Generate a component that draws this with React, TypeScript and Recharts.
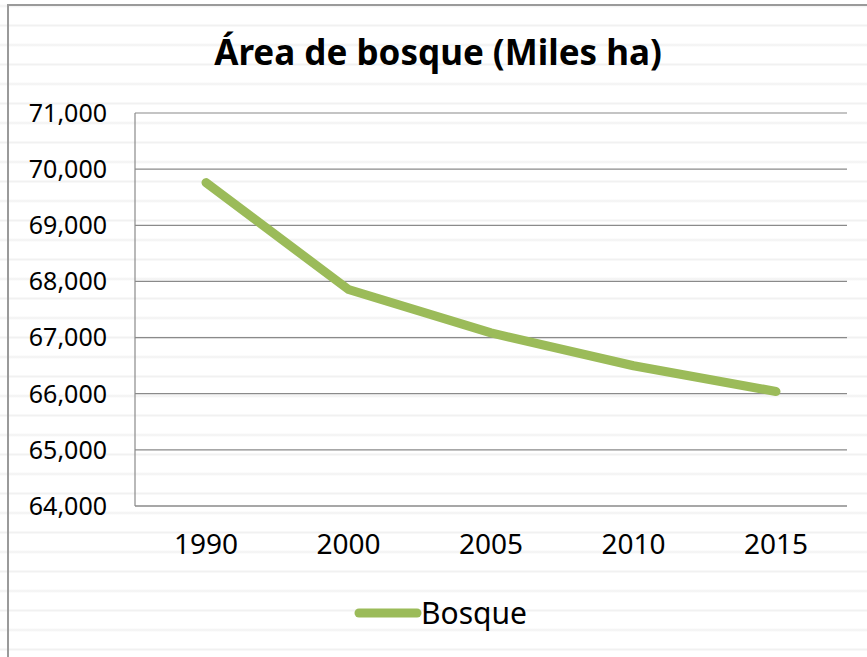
import { LineChart, Line, XAxis, YAxis, CartesianGrid } from "recharts";

// Área de bosque, miles de hectáreas
const years = ["1990", "2000", "2005", "2010", "2015"];
const bosque = [69760, 67856, 67083, 66498, 66040];
const yTicks = [64000, 65000, 66000, 67000, 68000, 69000, 70000, 71000];

const data = years.map((y, i) => ({ year: y, bosque: bosque[i] }));

const FONT = "'Noto Sans', 'Open Sans', sans-serif";
const GREEN = "#9BBB59";
const GRID = "#8a8a8a";

const stripes =
  "repeating-linear-gradient(180deg, #ffffff 0px, #ffffff 4px, #f1f1f1 6px, #ffffff 8px, #ffffff 19.5px)";

export default function App() {
  return (
    <div
      style={{
        position: "fixed",
        left: 0,
        top: 0,
        width: 867,
        height: 657,
        overflow: "hidden",
        background: stripes,
        fontFamily: FONT,
      }}
    >
      {/* chart frame, runs off the right and bottom edges */}
      <div
        style={{
          position: "absolute",
          left: 7,
          top: 4,
          width: 900,
          height: 700,
          border: "2px solid #9a9a9a",
          boxSizing: "border-box",
        }}
      />
      <div style={{ position: "absolute", left: 0, top: 0 }}>
        <LineChart
          width={867}
          height={657}
          data={data}
          margin={{ top: 113, right: 20, bottom: 111, left: 0 }}
        >
          <CartesianGrid vertical={false} stroke={GRID} strokeWidth={1.2} />
          <XAxis
            dataKey="year"
            height={40}
            padding={{ left: 71, right: 71 }}
            tickSize={0}
            tickMargin={28}
            axisLine={{ stroke: GRID, strokeWidth: 1.2 }}
            tick={{ fontSize: 28, fill: "#000", fontFamily: FONT }}
          />
          <YAxis
            width={135}
            domain={[64000, 71000]}
            ticks={yTicks}
            interval={0}
            tickSize={0}
            tickMargin={28}
            axisLine={{ stroke: GRID, strokeWidth: 1.2 }}
            tickFormatter={(v: number) => v.toLocaleString("en-US")}
            tick={{ fontSize: 25, fill: "#000", fontFamily: FONT }}
          />
          <Line
            type="linear"
            dataKey="bosque"
            stroke={GREEN}
            strokeWidth={9}
            strokeLinecap="round"
            strokeLinejoin="round"
            dot={false}
            activeDot={false}
            isAnimationActive={false}
          />
        </LineChart>
      </div>
      <svg
        width={867}
        height={657}
        style={{ position: "absolute", left: 0, top: 0, pointerEvents: "none" }}
      >
        <text
          x={438}
          y={65}
          textAnchor="middle"
          fontFamily={FONT}
          fontWeight="bold"
          fontSize={35}
          fill="#000"
        >
          Área de bosque (Miles ha)
        </text>
        <line x1={359} y1={613} x2={417} y2={613} stroke={GREEN} strokeWidth={9} strokeLinecap="round" />
        <text x={421} y={624} fontFamily={FONT} fontSize={30} fill="#000">
          Bosque
        </text>
      </svg>
    </div>
  );
}
